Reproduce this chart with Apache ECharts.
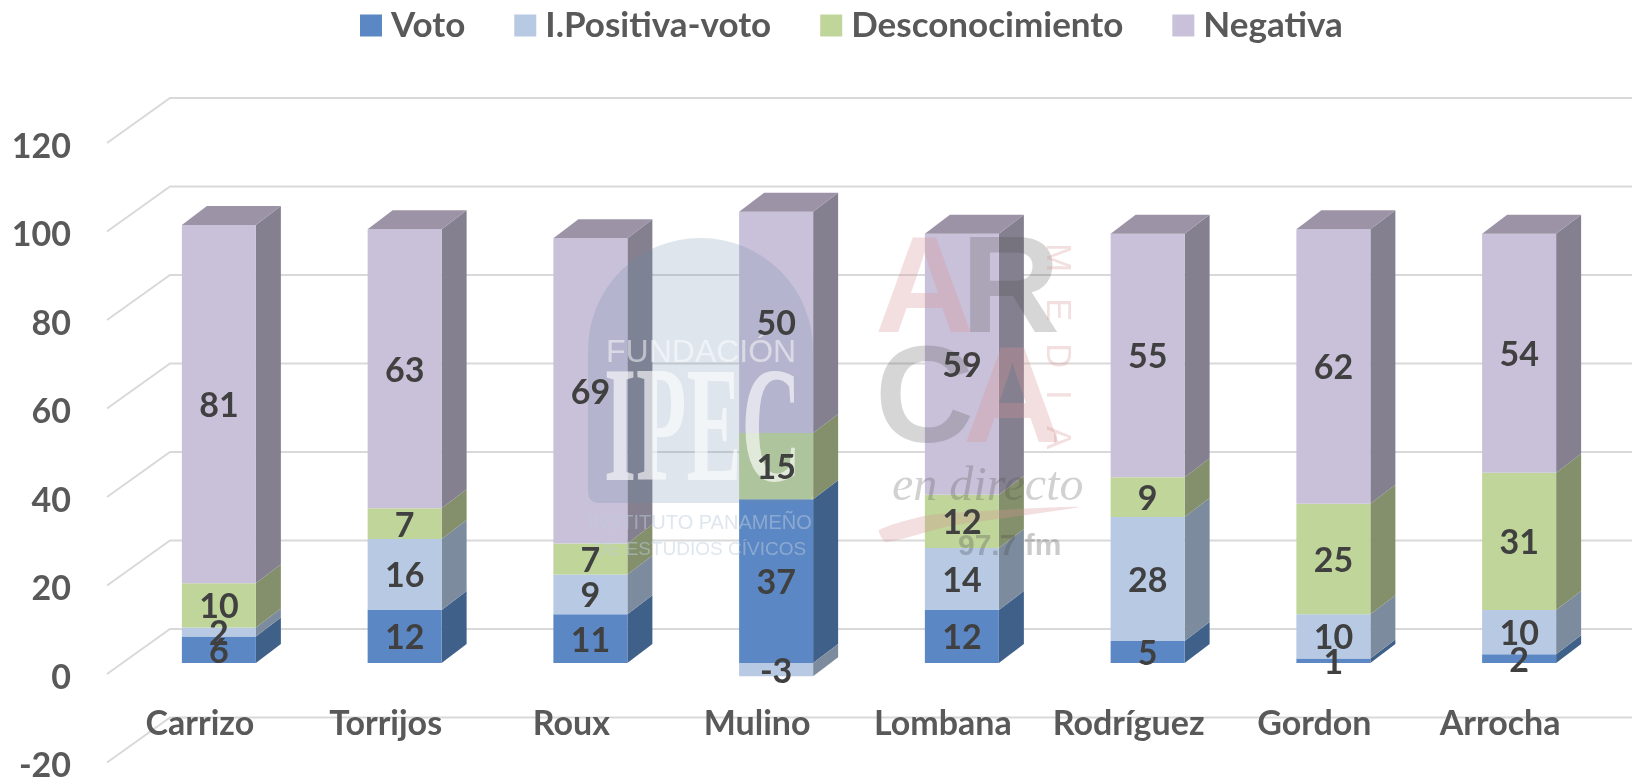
<!DOCTYPE html>
<html>
<head>
<meta charset="utf-8">
<title>Intencion de voto</title>
<script src="https://cdn.jsdelivr.net/npm/echarts@6/dist/echarts.min.js"></script>
<style>
html, body { margin: 0; padding: 0; background: #fff; overflow: hidden; }
#main { width: 1632px; height: 783px; }
</style>
</head>
<body>
<div id="main"></div>
<script>
var categories = ['Carrizo', 'Torrijos', 'Roux', 'Mulino', 'Lombana', 'Rodríguez', 'Gordon', 'Arrocha'];
var voto = [6, 12, 11, 37, 12, 5, 1, 2];
var positiva = [2, 16, 9, -3, 14, 28, 10, 10];
var desconocimiento = [10, 7, 7, 15, 12, 9, 25, 31];
var negativa = [81, 63, 69, 50, 59, 55, 62, 54];
var wallTicks = [-20, 0, 20, 40, 60, 80, 100, 120];
var seriesNames = ['Voto', 'I.Positiva-voto', 'Desconocimiento', 'Negativa'];

var fontName = 'Lato';
var frontColors = ['#5b87c4', '#b7c9e3', '#c0d59a', '#c9c1d9'];
var sideColors = ['#3f6089', '#7c8c9e', '#84906b', '#858090'];
var topColor = '#9c94a6';

// stack like excel does: positives go up, negatives go down from 0
var allValues = [voto, positiva, desconocimiento, negativa];
var posBase = categories.map(function() { return 0; });
var negBase = categories.map(function() { return 0; });
var stacked = allValues.map(function(vals) {
	return vals.map(function(v, i) {
		var from;
		if (v >= 0) {
			from = posBase[i];
			posBase[i] += v;
		} else {
			from = negBase[i];
			negBase[i] += v;
		}
		return [i, from, from + v, v];
	});
});

function renderBar(params, api) {
	var idx = params.seriesIndex;
	var cat = api.value(0);
	var p0 = api.coord([cat, api.value(1)]);
	var p1 = api.coord([cat, api.value(2)]);
	var x0 = p0[0] + 19 - 37, x1 = x0 + 74;
	var yA = p0[1] - 11, yB = p1[1] - 11;
	var dx = 25, dy = -19;
	var children = [{
		type : 'polygon',
		shape : { points : [ [ x1, yA ], [ x1 + dx, yA + dy ], [ x1 + dx, yB + dy ], [ x1, yB ] ] },
		style : { fill : sideColors[idx] }
	}, {
		type : 'rect',
		shape : { x : x0, y : Math.min(yA, yB), width : 74, height : Math.abs(yB - yA) },
		style : { fill : frontColors[idx] }
	}];
	if (idx === 3) {
		children.push({
			type : 'polygon',
			shape : { points : [ [ x0, yB ], [ x0 + dx, yB + dy ], [ x1 + dx, yB + dy ], [ x1, yB ] ] },
			style : { fill : topColor }
		});
	}
	return { type : 'group', children : children };
}

function renderLabel(params, api) {
	var cat = api.value(0);
	var p0 = api.coord([cat, api.value(1)]);
	var p1 = api.coord([cat, api.value(2)]);
	return {
		type : 'text',
		style : {
			x : p0[0] + 19,
			y : (p0[1] + p1[1]) / 2 - 11 + 2,
			text : String(api.value(3)),
			align : 'center',
			verticalAlign : 'middle',
			fill : '#404040',
			font : 'bold 34px ' + fontName
		}
	};
}

function renderWall(params, api) {
	var p = api.coord([0, api.value(1)]);
	var band = api.size([1, 0])[0];
	var left = p[0] - band / 2;
	return {
		type : 'polyline',
		shape : { points : [ [ left, p[1] ], [ left + 63, p[1] - 45 ], [ left + 63 + band * 8, p[1] - 45 ] ] },
		style : { stroke : '#d9d9d9', lineWidth : 2, fill : 'none' }
	};
}

var series = stacked.map(function(rows, i) {
	return {
		name : seriesNames[i],
		type : 'custom',
		renderItem : renderBar,
		itemStyle : { color : frontColors[i] },
		encode : { x : 0, y : [1, 2] },
		data : rows,
		z : 3
	};
});
series.push({
	type : 'custom',
	name : 'wall',
	renderItem : renderWall,
	silent : true,
	encode : { x : 0, y : 1 },
	data : wallTicks.map(function(v) { return [0, v]; }),
	z : 1
});
series.push({
	type : 'custom',
	name : 'labels',
	renderItem : renderLabel,
	silent : true,
	encode : { x : 0, y : [1, 2] },
	data : [].concat(stacked[0], stacked[1], stacked[2], stacked[3]),
	z : 60
});

// watermarks on top of the chart
var arcaPink = 'rgba(214,150,150,0.30)';
var arcaGray = 'rgba(70,70,70,0.22)';
var ipecBlue = 'rgba(105,135,170,0.22)';
var ipecText = 'rgba(190,205,222,0.5)';
function markText(text, x, y, font, fill, extra) {
	var el = {
		type : 'text', z : 50, silent : true, x : x, y : y,
		style : { text : text, fill : fill, font : font, textAlign : 'left', textVerticalAlign : 'middle' }
	};
	for (var k in extra) {
		el[k] = extra[k];
	}
	return el;
}
var sans = '"Liberation Sans"';
var bigFont = 'bold 137px ' + sans;
var mediaFont = '35px ' + sans;
var mediaRot = { rotation : -Math.PI / 2 };
var watermarks = [
	{
		type : 'rect', z : 50, silent : true,
		shape : { x : 588, y : 238, width : 225, height : 265, r : [ 112, 112, 10, 10 ] },
		style : { fill : ipecBlue }
	},
	markText('FUNDACIÓN', 606, 353, '32px ' + sans, 'rgba(255,255,255,0.5)'),
	markText('IPEC', 604, 437, 'bold 165px "Liberation Serif"', 'rgba(255,255,255,0.62)', { scaleX : 0.5 }),
	markText('INSTITUTO PANAMEÑO', 588, 523, '20px ' + sans, ipecText),
	markText('DE ESTUDIOS CÍVICOS', 594, 550, '19px ' + sans, ipecText),
	markText('A', 875, 294, bigFont, arcaPink),
	markText('R', 961, 294, bigFont, arcaGray),
	markText('C', 875, 404, bigFont, arcaGray),
	markText('A', 963, 404, bigFont, arcaPink),
	markText('M', 1057, 243, mediaFont, arcaPink, mediaRot),
	markText('E', 1057, 298, mediaFont, arcaPink, mediaRot),
	markText('D', 1057, 343, mediaFont, arcaPink, mediaRot),
	markText('I', 1057, 390, mediaFont, arcaPink, mediaRot),
	markText('A', 1057, 426, mediaFont, arcaPink, mediaRot),
	markText('en directo', 892, 487, 'italic 48px "Liberation Serif"', 'rgba(70,70,70,0.25)'),
	{
		type : 'polygon', z : 50, silent : true,
		shape : { points : [ [ 879, 530 ], [ 930, 515 ], [ 1079, 507 ], [ 950, 526 ], [ 886, 542 ] ], smooth : 0.2 },
		style : { fill : arcaPink }
	},
	markText('97.7 fm', 958, 547, 'bold 30px ' + sans, 'rgba(70,70,70,0.28)')
];

var myChart = echarts.init(document.getElementById('main'));
var option = {
	animation : false,
	backgroundColor : '#fff',
	grid : { left : 107, width : 1486, top : 143, height : 619.5, outerBoundsMode : 'none' },
	legend : {
		left : 355,
		top : 3,
		icon : 'rect',
		itemWidth : 22,
		itemHeight : 22,
		itemGap : 49,
		data : seriesNames,
		textStyle : { color : '#595959', fontFamily : fontName, fontWeight : 'bold', fontSize : 35, padding : [ 0, 0, 0, 4 ] }
	},
	xAxis : {
		type : 'category',
		z : 5,
		data : categories,
		axisLine : { show : false },
		axisTick : { show : false },
		axisLabel : { interval : 0, margin : -55, color : '#595959', fontFamily : fontName, fontWeight : 'bold', fontSize : 34 },
		splitLine : { show : false }
	},
	yAxis : {
		type : 'value',
		min : -20,
		max : 120,
		interval : 20,
		axisLine : { show : false },
		axisTick : { show : false },
		splitLine : { show : false },
		axisLabel : {
			margin : 36,
			formatter : '{v|{value}}',
			rich : { v : { padding : [ 8, 0, 0, 0 ], color : '#595959', fontFamily : fontName, fontWeight : 'bold', fontSize : 34 } }
		}
	},
	series : series,
	graphic : { elements : watermarks }
};
myChart.setOption(option);
</script>
</body>
</html>
